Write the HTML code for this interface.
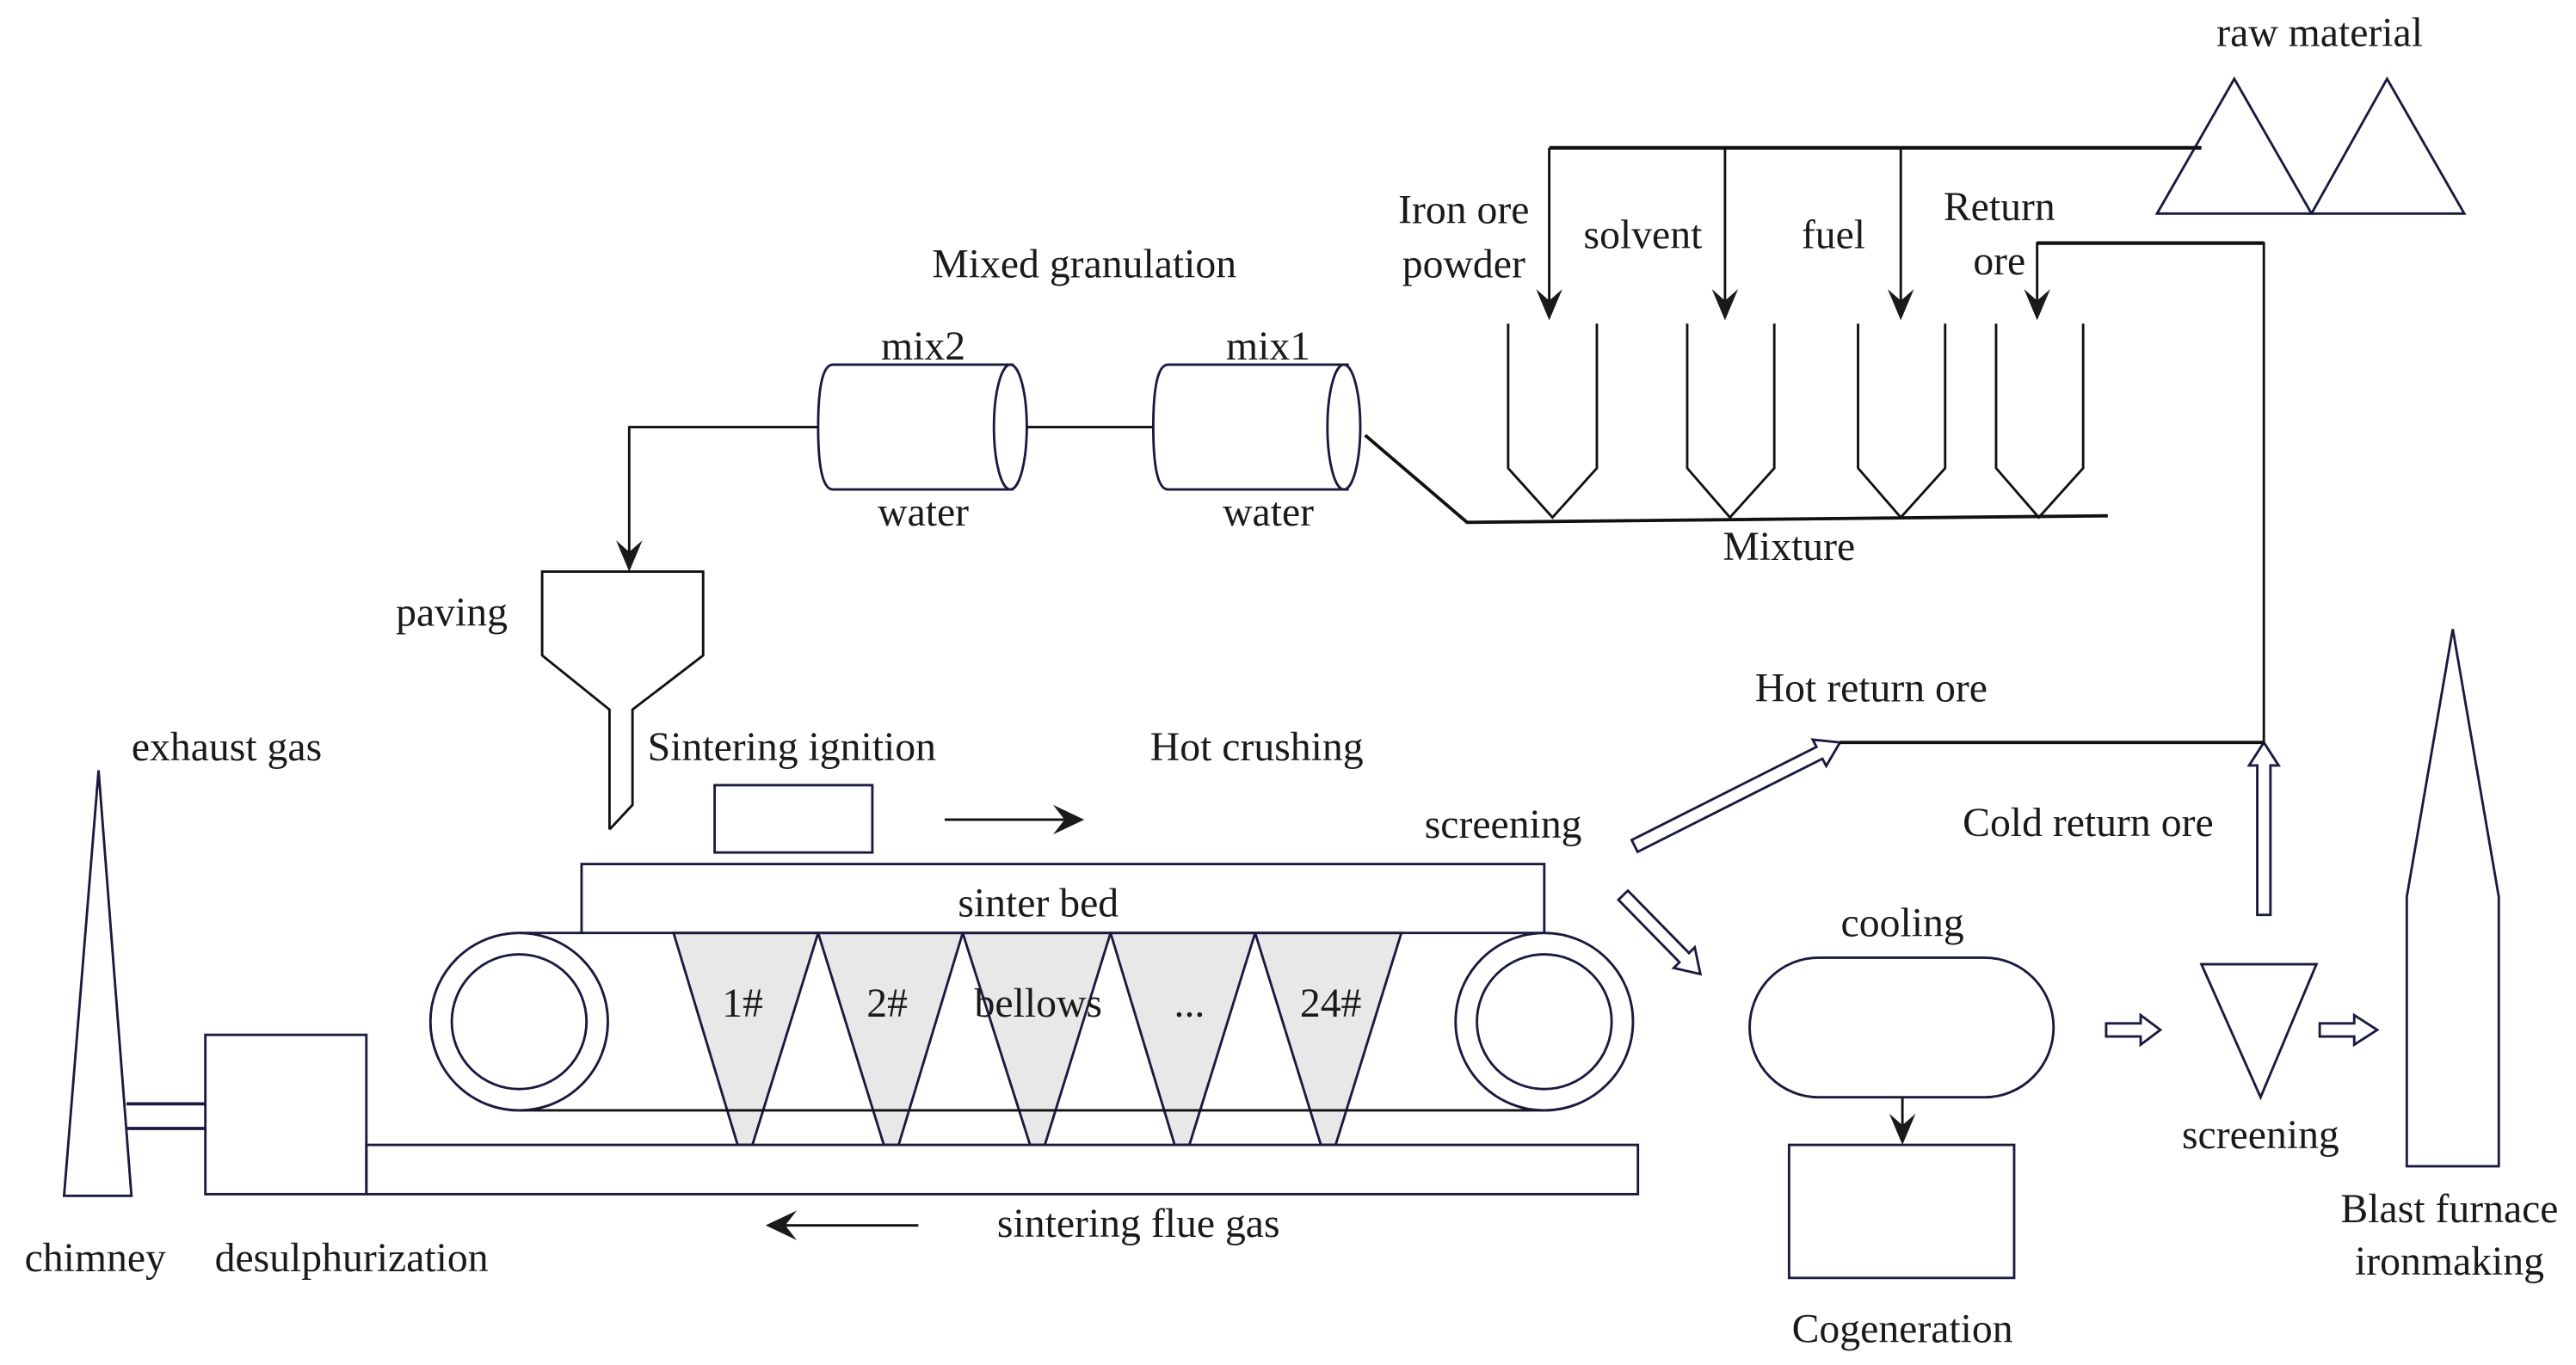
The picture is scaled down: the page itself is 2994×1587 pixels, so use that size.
<!DOCTYPE html>
<html><head><meta charset="utf-8"><style>
html,body{margin:0;padding:0;background:#fff;}
svg{display:block;}
text{font-family:"Liberation Serif",serif;font-size:25px;fill:#1a1a1a;text-anchor:middle;}
</style></head><body>
<svg width="2994" height="1587" viewBox="0 0 1568 831" preserveAspectRatio="none" xmlns="http://www.w3.org/2000/svg">
<g fill="none" stroke="#1a1a40" stroke-width="1.5">
<polygon points="1313,130 1360,48 1407,130"/>
<polygon points="1407,130 1453,48 1500,130"/>
<polyline points="918,197 918,285 945,315 972,285 972,197" stroke="#111"/>
<polyline points="1027,197 1027,285 1053,315 1080,285 1080,197" stroke="#111"/>
<polyline points="1131,197 1131,285 1157,315 1184,285 1184,197" stroke="#111"/>
<polyline points="1215,197 1215,285 1241,315 1268,285 1268,197" stroke="#111"/>
<path d="M507,222 L617,222 M507,298 L617,298 M507,222 Q498,222 498,260 Q498,298 507,298"/>
<ellipse cx="615" cy="260" rx="10" ry="38"/>
<path d="M711,222 L821,222 M711,298 L821,298 M711,222 Q702,222 702,260 Q702,298 711,298"/>
<ellipse cx="818" cy="260" rx="10" ry="38"/>
<polyline points="371,505 371,432 330,399 330,348 428,348 428,399 385,432 385,490 371,505" stroke="#111"/>
<rect x="435" y="478" width="96" height="41"/>
<polyline points="354,568 354,526 940,526 940,568"/>
<g fill="#e8e8e8">
<polygon points="410,568 498,568 458,697 449,697"/>
<polygon points="498,568 586,568 547,697 538,697"/>
<polygon points="586,568 676,568 636,697 627,697"/>
<polygon points="676,568 764,568 724,697 715,697"/>
<polygon points="764,568 853,568 813,697 804,697"/>
</g>
<line x1="316" y1="568" x2="940" y2="568"/>
<line x1="316" y1="676" x2="940" y2="676" stroke="#111"/>
<circle cx="316" cy="622" r="54" fill="#fff"/>
<circle cx="316" cy="622" r="41"/>
<circle cx="940" cy="622" r="54" fill="#fff"/>
<circle cx="940" cy="622" r="41"/>
<rect x="223" y="697" width="774" height="30"/>
<rect x="125" y="630" width="98" height="97"/>
<line x1="77" y1="672" x2="125" y2="672" stroke-width="2"/>
<line x1="77" y1="687" x2="125" y2="687" stroke-width="2"/>
<polygon points="39,728 60,469 80,728" fill="#fff"/>
<path d="M1107,583 L1208,583 A42,42.5 0 0 1 1208,668 L1107,668 A42,42.5 0 0 1 1107,583 Z"/>
<rect x="1089" y="697" width="137" height="81"/>
<polygon points="1340,587 1410,587 1376,668"/>
<polygon points="1493,383 1521,546 1521,710 1465,710 1465,546"/>
<polygon points="996.8,518.6 1109.3,461.9 1111.6,466.3 1120,452 1103.4,450.3 1105.7,454.7 993.2,511.4"/>
<polygon points="985.1,547.8 1022.3,585.8 1018.8,589.3 1035,593 1031.6,576.7 1028.1,580.2 990.9,542.2"/>
<polygon points="1374,557 1374,466 1369,466 1378,452 1387,466 1382,466 1382,557"/>
<polygon points="1282,623 1303,623 1303,618 1315,627 1303,636 1303,631 1282,631"/>
<polygon points="1412,623 1433,623 1433,618 1447,627 1433,636 1433,631 1412,631"/>
</g>
<g fill="none" stroke="#111" stroke-width="1.5">
<line x1="943" y1="90" x2="1340" y2="90" stroke-width="2.2"/>
<line x1="943" y1="90" x2="943" y2="190"/>
<line x1="1050" y1="90" x2="1050" y2="190"/>
<line x1="1157" y1="90" x2="1157" y2="190"/>
<polyline points="1240,190 1240,148 1378,148 1378,452" />
<line x1="1240" y1="148" x2="1378" y2="148" stroke-width="2.2"/>
<polyline points="831,265 893,318 1283,314" stroke-width="2"/>
<line x1="625" y1="260" x2="702" y2="260"/>
<polyline points="498,260 383,260 383,340"/>
<line x1="575" y1="499" x2="650" y2="499"/>
<line x1="475" y1="746" x2="559" y2="746"/>
<line x1="1120" y1="452" x2="1378" y2="452" stroke-width="2"/>
<line x1="1158" y1="668" x2="1158" y2="690"/>
</g>
<g fill="#1a1a1a">
<polygon points="943,195 935,176 943,183 951,176"/>
<polygon points="1050,195 1042,176 1050,183 1058,176"/>
<polygon points="1157,195 1149,176 1157,183 1165,176"/>
<polygon points="1240,195 1232,176 1240,183 1248,176"/>
<polygon points="383,348 375,329 383,336 391,329"/>
<polygon points="1158,697 1150,678 1158,685 1166,678"/>
<polygon points="660,499 641,490 648,499 641,508"/>
<polygon points="466,746 485,737 478,746 485,755"/>
</g>
<text x="1412" y="28">raw material</text>
<text x="891" y="136">Iron ore</text>
<text x="891" y="169">powder</text>
<text x="1000" y="151">solvent</text>
<text x="1116" y="151">fuel</text>
<text x="1217" y="134">Return</text>
<text x="1217" y="167">ore</text>
<text x="660" y="169">Mixed granulation</text>
<text x="562" y="219">mix2</text>
<text x="772" y="219">mix1</text>
<text x="562" y="320">water</text>
<text x="772" y="320">water</text>
<text x="1089" y="341">Mixture</text>
<text x="275" y="381">paving</text>
<text x="138" y="463">exhaust gas</text>
<text x="482" y="463">Sintering ignition</text>
<text x="765" y="463">Hot crushing</text>
<text x="1139" y="427">Hot return ore</text>
<text x="915" y="510">screening</text>
<text x="1271" y="509">Cold return ore</text>
<text x="632" y="558">sinter bed</text>
<text x="1158" y="570">cooling</text>
<text x="452" y="619">1#</text>
<text x="540" y="619">2#</text>
<text x="632" y="619">bellows</text>
<text x="724" y="619">...</text>
<text x="810" y="619">24#</text>
<text x="1376" y="699">screening</text>
<text x="1491" y="744">Blast furnace</text>
<text x="1491" y="776">ironmaking</text>
<text x="693" y="753">sintering flue gas</text>
<text x="58" y="774">chimney</text>
<text x="214" y="774">desulphurization</text>
<text x="1158" y="817">Cogeneration</text>
</svg>
</body></html>
